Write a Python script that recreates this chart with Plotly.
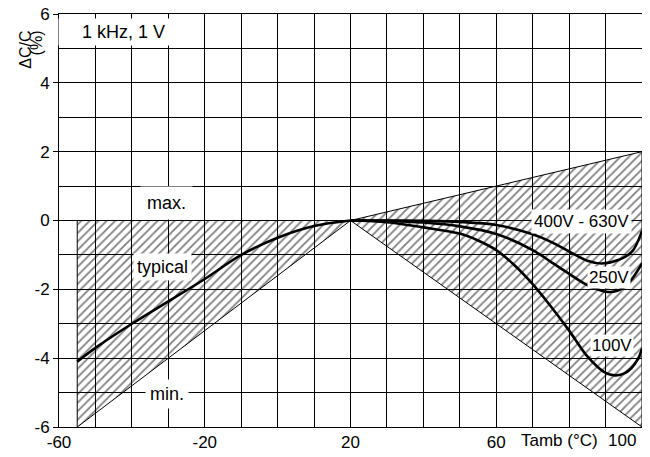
import plotly.graph_objects as go

# ---- data ----
x_tick_vals = [-60, -20, 20, 60, 100]
x_tick_text = ["-60", "-20", "20", "60", ""]
y_tick_vals = [6, 4, 2, 0, -2, -4, -6]
y_tick_text = ["6", "4", "2", "0", "-2", "-4", "-6"]

# tolerance bands (hatched)
band_left_x = [-55, 20, -55, -55]
band_left_y = [0, 0, -6, 0]
band_right_x = [20, 100, 100, 20]
band_right_y = [0, 2, -6, 0]

# typical curve (below 20 °C)
typical_x = [-55, -50, -40, -30, -20, -10, 0, 10, 20]
typical_y = [-4.1, -3.7, -3.0, -2.35, -1.7, -1.0, -0.5, -0.16, 0]

# above 20 °C, by rated voltage
v400_x = [20, 30, 40, 50, 60, 70, 75, 80, 85, 89, 93.5, 97.3, 100]
v400_y = [0, 0, -0.01, -0.04, -0.13, -0.4, -0.62, -0.9, -1.17, -1.25, -1.15, -0.9, -0.3]

v250_x = [20, 30, 40, 50, 60, 70, 75, 80, 85, 90, 93, 96, 98.3, 100]
v250_y = [0, -0.01, -0.06, -0.17, -0.39, -0.86, -1.2, -1.55, -1.88, -2.07, -2.05, -1.85, -1.54, -1.25]

v100_x = [20, 30, 40, 50, 55, 60, 65, 70, 75, 80, 85, 90, 92.5, 95, 97, 99, 100]
v100_y = [0, -0.05, -0.2, -0.38, -0.58, -0.86, -1.3, -1.85, -2.5, -3.2, -3.95, -4.43, -4.5, -4.45, -4.3, -4.0, -3.72]

FONT = "Liberation Sans, Arial, Helvetica, sans-serif"
CLEAR = "rgba(0,0,0,0)"

fig = go.Figure()

hatch = dict(shape="/", fgcolor="black", bgcolor=CLEAR, size=6, solidity=0.3)
for bx, by in [(band_left_x, band_left_y), (band_right_x, band_right_y)]:
    fig.add_trace(go.Scatter(
        x=bx, y=by, mode="lines", fill="toself", fillcolor=CLEAR,
        line=dict(color="black", width=1),
        fillpattern=hatch, hoverinfo="skip", showlegend=False,
    ))

for cx, cy in [(typical_x, typical_y), (v400_x, v400_y), (v250_x, v250_y), (v100_x, v100_y)]:
    fig.add_trace(go.Scatter(
        x=cx, y=cy, mode="lines",
        line=dict(color="black", width=2.6, shape="spline", smoothing=0.9),
        showlegend=False,
    ))

labels = [
    ("\u00a0\u00a0\u00a0\u00a01 kHz, 1 V\u00a0\u00a0\u00a0\u00a0", -42.2, 5.48, 3, 18),
    ("max.", -30.5, 0.5, 6, 18),
    ("typical", -31.5, -1.35, 3, 18),
    ("min.", -30.4, -5.05, 4, 18),
    ("400V - 630V", 83.5, -0.03, 2, 17),
    ("250V", 91.0, -1.65, 1, 17),
    ("100V", 91.7, -3.62, 1, 17),
]
for txt, ax, ay, pad, fs in labels:
    fig.add_annotation(x=ax, y=ay, text=txt, showarrow=False,
                       font=dict(family=FONT, size=fs, color="black"),
                       bgcolor="white", borderpad=pad)

# x-axis extra labels
fig.add_annotation(x=100, y=0, xref="x", yref="paper", text="100", showarrow=False,
                   xanchor="right", yanchor="top", xshift=-4, yshift=-2,
                   font=dict(family=FONT, size=17, color="black"))
fig.add_annotation(x=77.4, y=0, xref="x", yref="paper", text="Tamb (°C)", showarrow=False,
                   xanchor="center", yanchor="top", yshift=-2,
                   font=dict(family=FONT, size=17, color="black"))

# y-axis title (two rotated lines)
fig.add_annotation(x=-0.058, y=0.965, xref="paper", yref="paper", text="ΔC/C",
                   showarrow=False, textangle=-90, xanchor="center", yanchor="top",
                   font=dict(family=FONT, size=16, color="black"))
fig.add_annotation(x=-0.037, y=0.965, xref="paper", yref="paper", text="(%)",
                   showarrow=False, textangle=-90, xanchor="center", yanchor="top",
                   font=dict(family=FONT, size=16, color="black"))

fig.update_xaxes(
    range=[-60, 100], tickvals=x_tick_vals, ticktext=x_tick_text,
    showline=True, linecolor="black", linewidth=1, mirror=True,
    ticks="", zeroline=False, automargin=False, ticklabeloverflow="allow",
    tickfont=dict(family=FONT, size=17, color="black"),
    showgrid=True, gridcolor="black", gridwidth=1,
    minor=dict(dtick=10, tick0=0, showgrid=True, gridcolor="black", gridwidth=1),
)
fig.update_yaxes(
    range=[-6, 6], tickvals=y_tick_vals, ticktext=y_tick_text,
    showline=True, linecolor="black", linewidth=1, mirror=True,
    ticks="outside", ticklen=5, tickcolor="black", zeroline=False, automargin=False,
    ticklabeloverflow="allow",
    tickfont=dict(family=FONT, size=17, color="black"),
    showgrid=True, gridcolor="black", gridwidth=1,
    minor=dict(dtick=1, tick0=0, showgrid=True, gridcolor="black", gridwidth=1),
)
# page body has an 8px margin, so the figure is offset by (8, 8)
fig.update_layout(
    width=650, height=457,
    margin=dict(l=51, r=16, t=6, b=38),
    plot_bgcolor="white", paper_bgcolor="white",
    showlegend=False,
)
fig.write_html("out.html")
